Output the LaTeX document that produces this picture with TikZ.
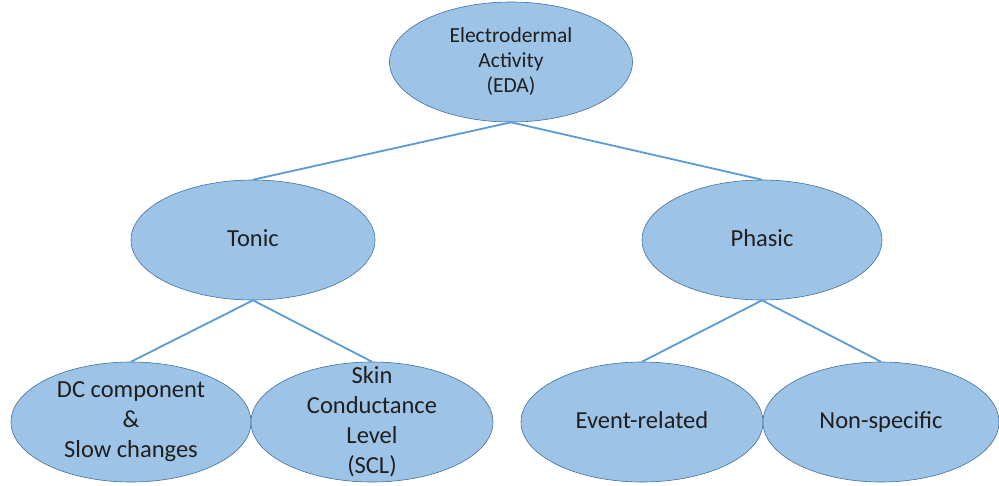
\documentclass[tikz,border=0pt]{standalone}
\usepackage{fontspec}
\setmainfont{Carlito}
\usepackage{xcolor}
\usetikzlibrary{shapes.geometric}
\definecolor{edafill}{HTML}{9DC3E6}
\definecolor{edaborder}{HTML}{41719C}
\definecolor{edaline}{HTML}{5B9BD5}

\begin{document}
\begin{tikzpicture}[x=1pt,y=-1pt,
  blob/.style={ellipse,draw=edaborder,fill=edafill,line width=0.6pt,
    minimum width=240pt,minimum height=120pt,inner sep=0pt},
  txt/.style={align=center,text=black!88,font=\fontsize{24.5}{30}\selectfont},
  small/.style={align=center,text=black!88,font=\fontsize{21.5}{25}\selectfont},
  link/.style={draw=edaline,line width=1.8pt}]
  \useasboundingbox (0,0) rectangle (999,485);

  \node[blob,minimum width=243pt,label={[small]center:{Electrodermal\\Activity\\(EDA)}}] (eda) at (511,62) {};
  \node[blob,minimum width=244pt,label={[txt]center:\strut Tonic}]  (tonic)  at (253,240) {};
  \node[blob,label={[txt]center:\strut Phasic}] (phasic) at (762,240) {};

  \node[blob,label={[txt]center:{DC component\\\&\\Slow changes}}]      (dc)  at (131,422) {};
  \node[blob,minimum width=242pt,label={[txt]center:{Skin\\Conductance\\Level\\(SCL)}}] (scl) at (372,422) {};
  \node[blob,minimum width=242pt,label={[txt]center:\strut Event-related}] (event) at (642,422) {};
  \node[blob,minimum width=236pt,label={[txt]center:\strut Non-specific}]  (nonsp) at (881,422) {};

  \path[link] (eda.south) -- (tonic.north)
              (eda.south) -- (phasic.north)
              (tonic.south) -- (dc.north)
              (tonic.south) -- (scl.north)
              (phasic.south) -- (event.north)
              (phasic.south) -- (nonsp.north);
\end{tikzpicture}
\end{document}
